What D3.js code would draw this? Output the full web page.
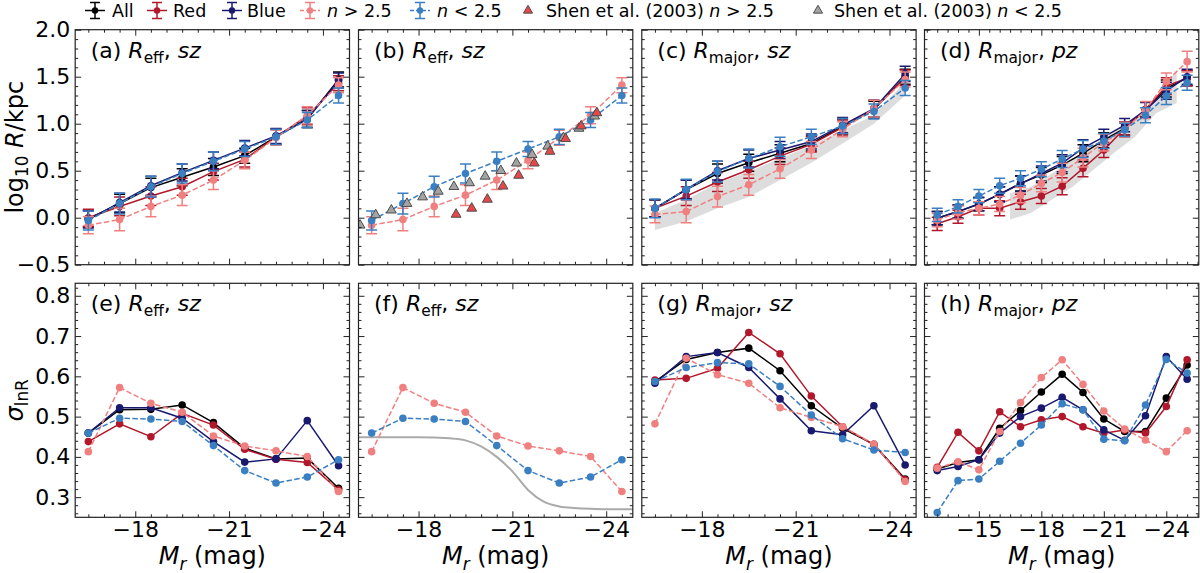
<!DOCTYPE html>
<html>
<head>
<meta charset="utf-8">
<script src="https://cdn.jsdelivr.net/npm/d3@7"></script>
<style>
  body { margin: 0; background: #fff; }
  svg { display: block; }
  text { font-family: "DejaVu Sans", sans-serif; white-space: pre; }
</style>
</head>
<body>
<div id="chart"></div>
<script>
// magnitude bins
const magBins = [-16.5, -17.5, -18.5, -19.5, -20.5, -21.5, -22.5, -23.5, -24.5];
const magBinsPz = [-13, -14, -15, -16, -17, -18, -19, -20, -21, -22, -23, -24, -25];

// (a),(b): log10 R_eff, sz
const effAll  = [-0.01, 0.15, 0.32, 0.43, 0.54, 0.66, 0.86, 1.05, 1.47];
const effRed  = [0.0, 0.12, 0.23, 0.33, 0.49, 0.62, 0.86, 1.08, 1.43];
const effBlue = [-0.02, 0.16, 0.34, 0.48, 0.61, 0.74, 0.87, 1.05, 1.46];
const effHi   = [-0.08, -0.02, 0.12, 0.24, 0.40, 0.61, 0.85, 1.09, 1.41];
const effLo   = [-0.03, 0.15, 0.33, 0.47, 0.60, 0.73, 0.86, 1.04, 1.30];

// (c): log10 R_major, sz
const majSzAll  = [0.10, 0.30, 0.47, 0.585, 0.685, 0.79, 0.97, 1.15, 1.50];
const majSzRed  = [0.10, 0.23, 0.38, 0.51, 0.655, 0.78, 0.96, 1.16, 1.49];
const majSzBlue = [0.10, 0.30, 0.50, 0.63, 0.72, 0.81, 0.985, 1.16, 1.53];
const majSzHi   = [0.035, 0.065, 0.225, 0.35, 0.52, 0.72, 0.94, 1.16, 1.47];
const majSzLo   = [0.10, 0.30, 0.49, 0.63, 0.755, 0.86, 0.975, 1.13, 1.38];

// (d): log10 R_major, pz
const majPzAll  = [-0.005, 0.065, 0.145, 0.25, 0.365, 0.455, 0.56, 0.685, 0.825, 0.95, 1.15, 1.375, 1.485];
const majPzRed  = [-0.065, 0.01, 0.10, 0.10, 0.17, 0.23, 0.335, 0.525, 0.72, 0.95, 1.15, 1.40, 1.485];
const majPzBlue = [-0.005, 0.065, 0.145, 0.25, 0.36, 0.47, 0.58, 0.74, 0.86, 0.985, 1.145, 1.35, 1.50];
const majPzHi   = [-0.025, 0.055, 0.10, 0.145, 0.24, 0.365, 0.48, 0.64, 0.80, 0.935, 1.145, 1.45, 1.66];
const majPzLo   = [0.03, 0.12, 0.23, 0.34, 0.42, 0.515, 0.625, 0.73, 0.815, 0.935, 1.09, 1.295, 1.435];

// error bars (half widths)
const errMain   = [0.09, 0.10, 0.10, 0.09, 0.09, 0.08, 0.08, 0.09, 0.08];
const errHi     = [0.09, 0.12, 0.11, 0.11, 0.10, 0.09, 0.08, 0.09, 0.08];
const errLo     = [0.10, 0.11, 0.11, 0.10, 0.10, 0.08, 0.08, 0.08, 0.08];
const errMainPz = [0.07, 0.07, 0.07, 0.08, 0.08, 0.08, 0.09, 0.09, 0.08, 0.07, 0.08, 0.09, 0.08];
const errHiPz   = [0.07, 0.07, 0.07, 0.08, 0.08, 0.09, 0.10, 0.10, 0.09, 0.08, 0.09, 0.09, 0.11];

// Shen et al. (2003) points
const shenLoMag = [-16.13, -16.63, -17.13, -17.63, -18.13, -18.63, -19.13, -19.63, -20.13, -20.63, -21.13, -21.63, -22.13, -22.63, -23.13, -23.63];
const shenLo    = [-0.08, 0.03, 0.08, 0.15, 0.22, 0.28, 0.33, 0.37, 0.44, 0.50, 0.58, 0.67, 0.76, 0.85, 0.95, 1.08];
const shenHiMag = [-19.2, -19.7, -20.2, -20.7, -21.2, -21.7, -22.2, -22.7, -23.2, -23.7];
const shenHi    = [0.035, 0.10, 0.195, 0.335, 0.45, 0.58, 0.705, 0.84, 0.975, 1.115];

// grey bands in (c) and (d)
const bandMag = [-16.5, -17.5, -18.5, -19.5, -20.5, -21.5, -22.5, -23.5, -24.5];
const bandSzLo = [-0.13, -0.04, 0.10, 0.22, 0.40, 0.585, 0.79, 1.00, 1.30];
const bandSzHi = [0.05, 0.19, 0.37, 0.49, 0.63, 0.77, 0.93, 1.09, 1.45];
const bandPzLo = [-0.02, 0.05, 0.19, 0.33, 0.51, 0.69, 0.86, 1.11, 1.22];
const bandPzHi = [0.26, 0.33, 0.47, 0.61, 0.76, 0.92, 1.04, 1.25, 1.57];

// (e),(f): sigma lnR, R_eff sz
const sigEffAll  = [0.459, 0.517, 0.518, 0.529, 0.485, 0.422, 0.395, 0.397, 0.322];
const sigEffRed  = [0.438, 0.482, 0.450, 0.508, 0.479, 0.419, 0.394, 0.386, 0.318];
const sigEffBlue = [0.459, 0.522, 0.522, 0.496, 0.438, 0.387, 0.395, 0.490, 0.378];
const sigEffHi   = [0.413, 0.572, 0.533, 0.511, 0.452, 0.427, 0.415, 0.401, 0.314];
const sigEffLo   = [0.459, 0.496, 0.494, 0.488, 0.428, 0.366, 0.335, 0.350, 0.393];

// (g): R_major sz
const sigSzAll  = [0.587, 0.642, 0.659, 0.670, 0.614, 0.527, 0.471, 0.431, 0.345];
const sigSzRed  = [0.591, 0.595, 0.620, 0.709, 0.656, 0.551, 0.475, 0.430, 0.343];
const sigSzBlue = [0.583, 0.649, 0.659, 0.622, 0.544, 0.465, 0.455, 0.527, 0.380];
const sigSzHi   = [0.482, 0.645, 0.604, 0.583, 0.522, 0.498, 0.475, 0.432, 0.339];
const sigSzLo   = [0.587, 0.622, 0.634, 0.631, 0.575, 0.504, 0.445, 0.417, 0.411];

// (h): R_major pz
const sigPzAll  = [0.370, 0.386, 0.393, 0.471, 0.515, 0.561, 0.605, 0.560, 0.494, 0.463, 0.463, 0.546, 0.628];
const sigPzRed  = [0.374, 0.461, 0.415, 0.512, 0.475, 0.492, 0.500, 0.475, 0.459, 0.467, 0.459, 0.525, 0.641];
const sigPzBlue = [0.366, 0.376, 0.393, 0.459, 0.500, 0.521, 0.548, 0.517, 0.467, 0.441, 0.502, 0.649, 0.593];
const sigPzHi   = [0.372, 0.388, 0.368, 0.463, 0.535, 0.597, 0.641, 0.580, 0.514, 0.469, 0.442, 0.413, 0.465];
const sigPzLo   = [0.262, 0.341, 0.345, 0.389, 0.434, 0.479, 0.532, 0.517, 0.444, 0.440, 0.529, 0.642, 0.608];

// Shen et al. (2003) scatter curve in (f)
const shenSigMag = [-16.08, -17, -18, -19, -19.5, -20, -20.5, -21, -21.5, -22, -22.5, -23, -23.5, -24, -24.85];
const shenSig    = [0.449, 0.449, 0.449, 0.446, 0.441, 0.426, 0.40, 0.364, 0.318, 0.289, 0.277, 0.273, 0.271, 0.270, 0.270];

// styles
const colAll = "#000000", colRed = "#b2182b", colBlue = "#191970", colHi = "#f08080", colLo = "#3a7fc2";

const colLeft = [75.2, 358.5, 641.8, 924.5];
const rowTop = [29.7, 283.3];
const rowH = [235, 234];
const pw = 274.3;

const svg = d3.select("#chart").append("svg")
  .attr("width", 1200)
  .attr("height", 573);

// writes rich text: parts = [[text, style]], style n / i / sub / isub
function rich(sel, parts, size) {
  let shift = 0;
  parts.forEach(([t, s]) => {
    const ts = sel.append("tspan").text(t);
    const isSub = s === "sub" || s === "isub";
    const target = isSub ? size * 0.22 : 0;
    if (target !== shift) ts.attr("dy", target - shift);
    shift = target;
    if (isSub) ts.attr("font-size", size * 0.7);
    if (s === "i" || s === "isub") ts.style("font-style", "italic");
  });
}

function makeSeries(all, red, blue, hi, lo, eMain, eHi, eLo) {
  return [
    { values: all, color: colAll, dash: false, err: eMain },
    { values: red, color: colRed, dash: false, err: eMain },
    { values: blue, color: colBlue, dash: false, err: eMain },
    { values: hi, color: colHi, dash: true, err: eHi },
    { values: lo, color: colLo, dash: true, err: eLo }
  ];
}

const effSeries = makeSeries(effAll, effRed, effBlue, effHi, effLo, errMain, errHi, errLo);
const szSeries = makeSeries(majSzAll, majSzRed, majSzBlue, majSzHi, majSzLo, errMain, errHi, errLo);
const pzSeries = makeSeries(majPzAll, majPzRed, majPzBlue, majPzHi, majPzLo, errMainPz, errHiPz, errMainPz);
const sigEff = makeSeries(sigEffAll, sigEffRed, sigEffBlue, sigEffHi, sigEffLo);
const sigSz = makeSeries(sigSzAll, sigSzRed, sigSzBlue, sigSzHi, sigSzLo);
const sigPz = makeSeries(sigPzAll, sigPzRed, sigPzBlue, sigPzHi, sigPzLo);

const labEff = ["R", "eff", "sz"], labSz = ["R", "major", "sz"], labPz = ["R", "major", "pz"];

const panels = [
  { tag: "(a)", col: 0, row: 0, pz: false, lab: labEff, series: effSeries },
  { tag: "(b)", col: 1, row: 0, pz: false, lab: labEff, series: effSeries.slice(3), shen: true },
  { tag: "(c)", col: 2, row: 0, pz: false, lab: labSz, series: szSeries, band: [bandSzLo, bandSzHi] },
  { tag: "(d)", col: 3, row: 0, pz: true, lab: labPz, series: pzSeries, band: [bandPzLo, bandPzHi] },
  { tag: "(e)", col: 0, row: 1, pz: false, lab: labEff, series: sigEff },
  { tag: "(f)", col: 1, row: 1, pz: false, lab: labEff, series: sigEff.slice(3), shenCurve: true },
  { tag: "(g)", col: 2, row: 1, pz: false, lab: labSz, series: sigSz },
  { tag: "(h)", col: 3, row: 1, pz: true, lab: labPz, series: sigPz }
];

const tickColor = "#222";

panels.forEach((p, pi) => {
  const w = pw, h = rowH[p.row];
  const g = svg.append("g").attr("transform", `translate(${colLeft[p.col]},${rowTop[p.row]})`);

  const x = d3.scaleLinear()
    .domain(p.pz ? [-12.39, -25.56] : [-16.08, -24.85])
    .range([0, w]);
  const y = d3.scaleLinear()
    .domain(p.row === 0 ? [-0.5, 2.0] : [0.25, 0.831])
    .range([h, 0]);
  const mags = p.pz ? magBinsPz : magBins;

  g.append("clipPath").attr("id", "clip" + pi)
    .append("rect").attr("width", w).attr("height", h);
  const plot = g.append("g").attr("clip-path", `url(#clip${pi})`);

  // grey band
  if (p.band) {
    const area = d3.area()
      .x((d, i) => x(bandMag[i]))
      .y0((d, i) => y(p.band[0][i]))
      .y1((d, i) => y(p.band[1][i]));
    plot.append("path").datum(bandMag).attr("d", area)
      .attr("fill", "#dddddd").attr("stroke", "none");
  }

  if (p.shenCurve) {
    const cl = d3.line().x((d, i) => x(shenSigMag[i])).y(d => y(d)).curve(d3.curveMonotoneX);
    plot.append("path").datum(shenSig).attr("d", cl)
      .attr("fill", "none").attr("stroke", "#aaaaaa").attr("stroke-width", 2);
  }

  const line = d3.line().x((d, i) => x(mags[i])).y(d => y(d));

  p.series.forEach(s => {
    if (p.row === 0 && s.err) {
      const eb = plot.append("g").attr("stroke", s.color).attr("stroke-width", 1.5);
      s.values.forEach((v, i) => {
        const cx = x(mags[i]), e = s.err[i];
        eb.append("line").attr("x1", cx).attr("x2", cx).attr("y1", y(v - e)).attr("y2", y(v + e));
        eb.append("line").attr("x1", cx - 5.5).attr("x2", cx + 5.5).attr("y1", y(v - e)).attr("y2", y(v - e));
        eb.append("line").attr("x1", cx - 5.5).attr("x2", cx + 5.5).attr("y1", y(v + e)).attr("y2", y(v + e));
      });
    }
    plot.append("path").datum(s.values).attr("d", line)
      .attr("fill", "none")
      .attr("stroke", s.color)
      .attr("stroke-width", 1.5)
      .attr("stroke-dasharray", s.dash ? "5.5,2.4" : null);
    plot.selectAll(null).data(s.values).join("circle")
      .attr("cx", (d, i) => x(mags[i]))
      .attr("cy", d => y(d))
      .attr("r", 3.8)
      .attr("fill", s.color);
  });

  if (p.shen) {
    const tri = d3.symbol(d3.symbolTriangle, 42);
    plot.selectAll(null).data(shenLo).join("path")
      .attr("d", tri)
      .attr("transform", (d, i) => `translate(${x(shenLoMag[i])},${y(d)})`)
      .attr("fill", "#a3a3a3").attr("stroke", "#4d4d4d").attr("stroke-width", 1);
    plot.selectAll(null).data(shenHi).join("path")
      .attr("d", tri)
      .attr("transform", (d, i) => `translate(${x(shenHiMag[i])},${y(d)})`)
      .attr("fill", "#e8474a").attr("stroke", "#4d4d4d").attr("stroke-width", 1);
  }

  // ticks on all four sides, pointing inward
  const xMajor = p.pz ? [-15, -18, -21, -24] : [-18, -21, -24];
  const xMinor = d3.range(p.pz ? -12.5 : -16.5, p.pz ? -25.6 : -24.9, -0.5)
    .filter(v => Math.abs(v % 3) > 1e-6);
  const yMajor = p.row === 0 ? [-0.5, 0, 0.5, 1.0, 1.5, 2.0] : [0.3, 0.4, 0.5, 0.6, 0.7, 0.8];
  const yMinor = (p.row === 0
    ? d3.range(-5, 21).map(k => k / 10)
    : d3.range(13, 42).map(k => k / 50))
    .filter(v => !yMajor.some(m => Math.abs(m - v) < 1e-6));

  const showX = p.row === 1, showY = p.col === 0;
  const fx = d3.format("d"), fy = d3.format(".1f");

  g.append("g").attr("transform", `translate(0,${h})`)
    .call(d3.axisBottom(x).tickValues(xMajor).tickSize(-6).tickPadding(4).tickFormat(showX ? fx : ""));
  g.append("g").attr("transform", `translate(0,${h})`)
    .call(d3.axisBottom(x).tickValues(xMinor).tickSize(-3).tickFormat(""));
  g.append("g").call(d3.axisTop(x).tickValues(xMajor).tickSize(-6).tickFormat(""));
  g.append("g").call(d3.axisTop(x).tickValues(xMinor).tickSize(-3).tickFormat(""));
  g.append("g")
    .call(d3.axisLeft(y).tickValues(yMajor).tickSize(-6).tickPadding(5).tickFormat(showY ? fy : ""));
  g.append("g").call(d3.axisLeft(y).tickValues(yMinor).tickSize(-3).tickFormat(""));
  g.append("g").attr("transform", `translate(${w},0)`)
    .call(d3.axisRight(y).tickValues(yMajor).tickSize(-6).tickFormat(""));
  g.append("g").attr("transform", `translate(${w},0)`)
    .call(d3.axisRight(y).tickValues(yMinor).tickSize(-3).tickFormat(""));

  g.selectAll(".domain").remove();
  g.selectAll(".tick line").attr("stroke", tickColor).attr("stroke-width", 1);
  g.selectAll(".tick text")
    .attr("fill", "#000")
    .style("font-size", "22px")
    .style("font-family", '"DejaVu Sans", sans-serif');

  g.append("rect").attr("width", w).attr("height", h)
    .attr("fill", "none").attr("stroke", tickColor).attr("stroke-width", 1.2);

  // panel label
  const lt = g.append("text").attr("x", 15.5).attr("y", 28).style("font-size", "22px");
  rich(lt, [[p.tag + " ", "n"], [p.lab[0], "i"], [p.lab[1], "sub"], [", ", "n"], [p.lab[2], "i"]], 22);

  if (showX) {
    const xt = g.append("text").attr("x", w / 2).attr("y", h + 47)
      .attr("text-anchor", "middle").style("font-size", "24px");
    rich(xt, [["M", "i"], ["r", "isub"], [" (mag)", "n"]], 24);
  }
});

// y axis labels
const yl1 = svg.append("text")
  .attr("transform", `translate(23,${rowTop[0] + rowH[0] / 2}) rotate(-90)`)
  .attr("text-anchor", "middle").style("font-size", "24px");
rich(yl1, [["log", "n"], ["10", "sub"], [" ", "n"], ["R", "i"], ["/kpc", "n"]], 24);

const yl2 = svg.append("text")
  .attr("transform", `translate(23,${rowTop[1] + rowH[1] / 2}) rotate(-90)`)
  .attr("text-anchor", "middle").style("font-size", "24px");
rich(yl2, [["σ", "i"], ["lnR", "sub"]], 24);

// legend
const legend = svg.append("g").attr("class", "legend");
const legY = 10.5;
const legItems = [
  { cx: 95, tx: 112, color: colAll, dash: false, text: [["All", "n"]] },
  { cx: 157, tx: 173, color: colRed, dash: false, text: [["Red", "n"]] },
  { cx: 232, tx: 247, color: colBlue, dash: false, text: [["Blue", "n"]] },
  { cx: 310, tx: 327, color: colHi, dash: true, text: [["n", "i"], [" > 2.5", "n"]] },
  { cx: 420, tx: 437, color: colLo, dash: true, text: [["n", "i"], [" < 2.5", "n"]] },
  { cx: 528, tx: 546, tri: "#e8474a", text: [["Shen et al. (2003) ", "n"], ["n", "i"], [" > 2.5", "n"]] },
  { cx: 818, tx: 834, tri: "#a3a3a3", text: [["Shen et al. (2003) ", "n"], ["n", "i"], [" < 2.5", "n"]] }
];

legItems.forEach(it => {
  const lg = legend.append("g");
  if (it.tri) {
    lg.append("path").attr("d", d3.symbol(d3.symbolTriangle, 36))
      .attr("transform", `translate(${it.cx},${legY})`)
      .attr("fill", it.tri).attr("stroke", "#4d4d4d").attr("stroke-width", 1);
  } else {
    lg.append("line").attr("x1", it.cx - 10).attr("x2", it.cx + 10).attr("y1", legY).attr("y2", legY)
      .attr("stroke", it.color).attr("stroke-width", 1.5)
      .attr("stroke-dasharray", it.dash ? "4,2" : null);
    lg.append("line").attr("x1", it.cx).attr("x2", it.cx).attr("y1", legY - 8).attr("y2", legY + 8)
      .attr("stroke", it.color).attr("stroke-width", 1.5);
    [legY - 8, legY + 8].forEach(yy => {
      lg.append("line").attr("x1", it.cx - 5).attr("x2", it.cx + 5).attr("y1", yy).attr("y2", yy)
        .attr("stroke", it.color).attr("stroke-width", 1.5);
    });
    lg.append("circle").attr("cx", it.cx).attr("cy", legY).attr("r", 3.2).attr("fill", it.color);
  }
  const t = lg.append("text").attr("x", it.tx).attr("y", legY + 6.5).style("font-size", "17.5px");
  rich(t, it.text, 17.5);
});
</script>
</body>
</html>
